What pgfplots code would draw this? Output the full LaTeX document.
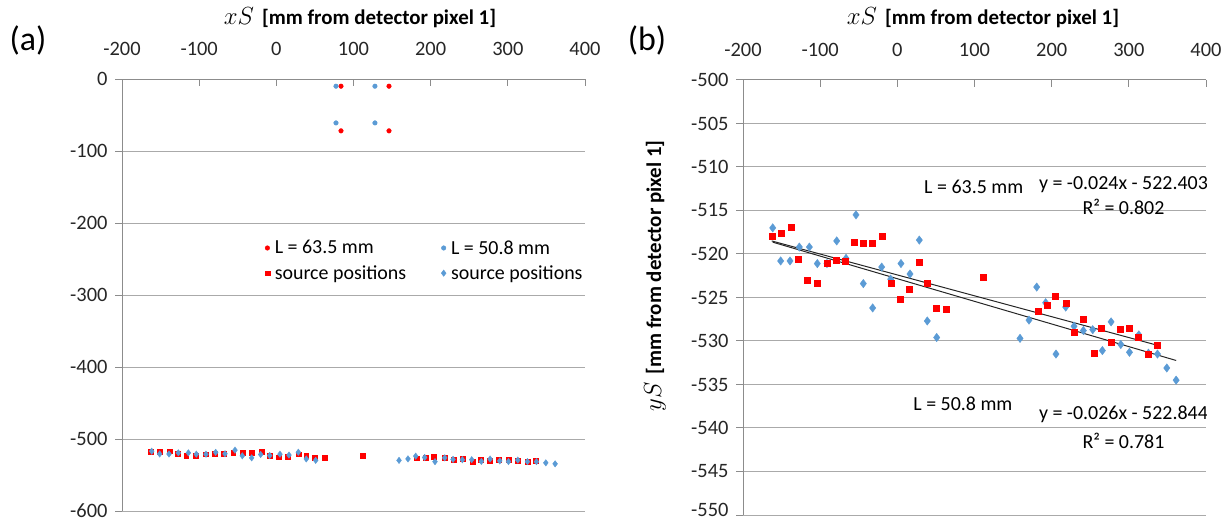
\documentclass[border=0pt]{standalone}
\usepackage{fontspec}
\setmainfont{Carlito}
\usepackage{pgfplots}
\usepackage{pgfplotstable}
\pgfplotsset{compat=1.18}
\definecolor{xred}{RGB}{255,0,0}
\definecolor{xblue}{RGB}{91,155,213}
\definecolor{gridc}{RGB}{170,170,170}
\definecolor{axc}{RGB}{140,140,140}

\pgfplotstableread{
x y
-162.8 -518.0
-150.8 -517.6
-137.8 -516.9
-128.3 -520.6
-116.7 -523.0
-104.5 -523.4
-91.5 -521.1
-79.5 -520.7
-67.8 -520.8
-55.8 -518.7
-44.1 -518.8
-32.4 -518.8
-19.0 -517.9
-8.6 -523.3
3.5 -525.2
15.1 -524.1
28.5 -521.0
38.8 -523.4
50.1 -526.2
62.7 -526.4
111.5 -522.7
182.0 -526.6
193.6 -525.9
204.3 -524.8
218.2 -525.7
229.5 -529.0
241.1 -527.5
254.9 -531.4
264.8 -528.5
277.0 -530.1
288.5 -528.7
300.8 -528.5
312.4 -529.6
325.4 -531.5
336.1 -530.5
}\redsrc

\pgfplotstableread{
x y
-161.5 -517.0
-151.2 -520.8
-139.1 -520.8
-127.0 -519.2
-114.0 -519.2
-103.7 -521.1
-91.2 -521.1
-78.6 -518.5
-66.5 -520.5
-53.6 -515.5
-44.1 -523.4
-32.0 -526.2
-20.3 -521.5
-8.6 -522.9
4.7 -521.1
16.4 -522.3
28.5 -518.4
38.8 -527.7
51.0 -529.6
159.0 -529.7
170.6 -527.6
180.6 -523.8
192.2 -525.6
205.6 -531.5
218.2 -526.1
229.0 -528.3
241.1 -528.8
253.2 -528.7
265.7 -531.1
277.0 -527.8
289.6 -530.4
300.8 -531.3
312.9 -529.3
325.4 -531.4
337.1 -531.5
349.2 -533.1
361.3 -534.5
}\bluesrc

\pgfplotstableread{
x y
83.8 -10
146.0 -10
83.8 -72
146.0 -72
}\reddet

\pgfplotstableread{
x y
77.3 -10
127.8 -10
77.3 -61
127.8 -61
}\bluedet

\pgfplotsset{common/.style={
  scale only axis,
  xmin=-200, xmax=400, xtick={-200,-100,...,400},
  axis x line*=top, axis y line*=left,
  axis line style={-, draw=axc, line width=1bp},
  ymajorgrids, major grid style={gridc, line width=1bp},
  xtick align=inside, ytick align=outside,
  major tick length=7bp,
  every tick/.style={axc, line width=1bp},
  tick label style={font=\fontsize{20.5}{24}\selectfont, text=black!85},
  /pgf/number format/assume math mode=true,
  xticklabel style={yshift=20bp},
  yticklabel style={xshift=-4bp, inner ysep=0bp},
}}

\begin{document}
\begin{tikzpicture}
\useasboundingbox (0,0) rectangle (1231bp,524bp);

% panel labels and titles
\node[font=\fontsize{34}{38}\selectfont] at (28bp,484bp) {(a)};
\node[font=\fontsize{34}{38}\selectfont] at (647bp,484bp) {(b)};
\node at (360bp,506bp) {{\fontsize{28}{28}\selectfont$xS$}\hspace{8bp}{\fontsize{21}{24}\selectfont\bfseries [mm from detector pixel 1]}};
\node at (983bp,506bp) {{\fontsize{28}{28}\selectfont$xS$}\hspace{8bp}{\fontsize{21}{24}\selectfont\bfseries [mm from detector pixel 1]}};
\node[rotate=90] at (655bp,248bp) {{\fontsize{28}{28}\selectfont$yS$}\hspace{8bp}{\fontsize{21}{24}\selectfont\bfseries [mm from detector pixel 1]}};

\begin{axis}[common,
  at={(122bp,13bp)}, anchor=south west,
  width=463bp, height=432bp,
  ymin=-600, ymax=0, ytick={-600,-500,...,0},
  legend style={at={(0.302,0.636)}, anchor=north west, draw=none, fill=none,
    font=\fontsize{20}{24}\selectfont, legend columns=2,
    /tikz/every even column/.append style={column sep=30bp},
    nodes={inner xsep=5bp},
    row sep=6bp},
  legend cell align=left,
]
\addplot[only marks, mark=*, mark size=2.3bp, color=xred] table {\reddet};
\addlegendentry{L = 63.5 mm}
\addplot[only marks, mark=*, mark size=2.3bp, color=xblue] table {\bluedet};
\addlegendentry{L = 50.8 mm}
\addplot[only marks, mark=square*, mark size=2.4bp, color=xred] table {\redsrc};
\addlegendentry{source positions}
\addplot[only marks, mark=diamond*, mark size=3.2bp, color=xblue] table {\bluesrc};
\addlegendentry{source positions}
\end{axis}

\begin{axis}[common,
  at={(743bp,9bp)}, anchor=south west,
  width=463bp, height=435bp,
  ymin=-550, ymax=-500, ytick={-550,-545,...,-500},
  yticklabels={{\raisebox{5bp}[\height][\depth]{-550}},-545,-540,-535,-530,-525,-520,-515,-510,-505,-500},
]
\addplot[only marks, mark=diamond*, mark size=4.2bp, color=xblue] table {\bluesrc};
\addplot[only marks, mark=square*, mark size=3bp, color=xred] table {\redsrc};
\addplot[black!85, line width=1bp] coordinates {(-162.8,-518.50) (336.1,-530.47)};
\addplot[black!85, line width=1bp] coordinates {(-161.5,-518.64) (361.3,-532.24)};
\node[font=\fontsize{20}{24}\selectfont] at (axis cs:99,-512.3) {L = 63.5 mm};
\node[font=\fontsize{20}{24}\selectfont] at (axis cs:293,-512.0) {y = -0.024x - 522.403};
\node[font=\fontsize{20}{24}\selectfont] at (axis cs:293,-514.6) {R² = 0.802};
\node[font=\fontsize{20}{24}\selectfont] at (axis cs:85,-537.2) {L = 50.8 mm};
\node[font=\fontsize{20}{24}\selectfont] at (axis cs:293,-538.4) {y = -0.026x - 522.844};
\node[font=\fontsize{20}{24}\selectfont] at (axis cs:293,-541.5) {R² = 0.781};
\end{axis}
\end{tikzpicture}
\end{document}
